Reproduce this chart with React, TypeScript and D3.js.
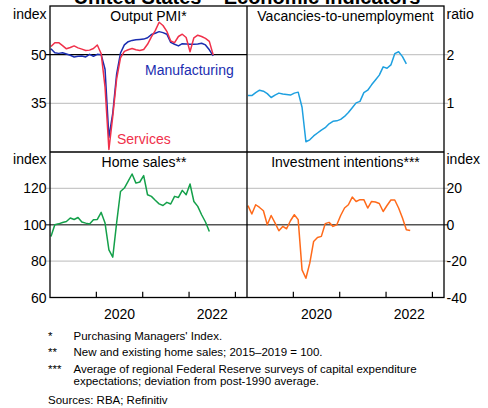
import React from "react";
import * as d3 from "d3";

// ---- Data (monthly, starting Jan 2019) ----
const startYear = 2019;
const pmiServices = [52.5, 53.7, 53.7, 52.8, 51.8, 52.2, 52.7, 52.1, 51.7, 51.3, 51.4, 51.9, 53.0, 50.3, 40, 20.8, 31, 42.5, 49, 51, 51.5, 51.9, 51.5, 51.3, 51.6, 53.2, 55.5, 57.4, 60.0, 59.0, 57.2, 54.2, 53.7, 55.6, 56.3, 55.3, 50.9, 55.2, 56.0, 55.6, 55.0, 54.1, 49.9];
const pmiManufacturing = [51.8, 50.6, 50.4, 50.6, 50.2, 49.8, 49.3, 49.5, 49.6, 49.3, 50.1, 49.5, 50.1, 50.0, 45.5, 24.5, 32, 44, 50.5, 53, 54, 54.4, 54.6, 54.7, 54.8, 55.2, 56.2, 56.6, 57.1, 56.8, 56.3, 53.8, 53.2, 52.7, 53.4, 53.3, 53.2, 53.2, 53.3, 53.5, 53.0, 51.5, 49.6];
const vacanciesRatio = [1.16, 1.16, 1.22, 1.27, 1.25, 1.2, 1.12, 1.17, 1.21, 1.19, 1.18, 1.17, 1.21, 1.23, 0.92, 0.21, 0.25, 0.33, 0.39, 0.45, 0.5, 0.58, 0.63, 0.64, 0.67, 0.73, 0.81, 0.91, 1.01, 1.04, 1.22, 1.27, 1.38, 1.48, 1.58, 1.75, 1.72, 1.79, 2.02, 2.06, 1.96, 1.81];
const homeSales = [93.6, 100, 100.5, 101.2, 101.8, 103.7, 102.9, 104, 101.5, 100.9, 100.4, 102.8, 102.9, 106.8, 100.9, 86.2, 82.2, 101, 118.3, 120.2, 124, 127.9, 122.9, 123.5, 127.0, 116.5, 115.6, 113.5, 111.5, 110.6, 112.3, 111.4, 115.6, 115.0, 118.9, 116.5, 122.4, 112.8, 110.1, 105.5, 101.5, 96.3];
const investmentIntentions = [10.5, 5.9, 11.0, 9.5, 7.7, 0, 5.1, 1.0, -3.3, -0.9, -2.2, 2.2, 5.5, 2.8, -24.8, -29.4, -21.1, -9.2, -7.0, -6.4, 0.6, 1.3, -0.9, 0, 5.1, 9.2, 11.0, 15.2, 12.8, 13.8, 13.8, 9.2, 12.8, 12.5, 11.7, 7.3, 10.6, 13.6, 13.6, 9.2, 3.7, -2.8, -3.1];

const yearTicks = [2020, 2021, 2022, 2023];
const yearLabels = [2020, 2022];
const pmiTicks = [35, 50];
const vuTicks = [1, 2];
const homeTicks = [60, 80, 100, 120];
const invTicks = [-40, -20, 0, 20];

const footnotes = [
  { mark: "*", lines: ["Purchasing Managers' Index."] },
  { mark: "**", lines: ["New and existing home sales; 2015\u20132019 = 100."] },
  { mark: "***", lines: ["Average of regional Federal Reserve surveys of capital expenditure", "expectations; deviation from post-1990 average."] },
];

const FONT = "'Liberation Sans', Arial, Helvetica, sans-serif";

// ---- Layout ----
const L = 50, M = 247, R = 444, T = 6, Y1 = 152, B = 297.5;

const xLeft = d3.scaleLinear().domain([2019, 2023.25]).range([L, M]);
const xRight = d3.scaleLinear().domain([2019, 2023.25]).range([M, R]);
const yPmi = d3.scaleLinear().domain([20, 65]).range([Y1, T]);
const yVu = d3.scaleLinear().domain([0, 3]).range([Y1, T]);
const yHome = d3.scaleLinear().domain([60, 140]).range([B, Y1]);
const yInv = d3.scaleLinear().domain([-40, 40]).range([B, Y1]);

const tOf = (k: number) => startYear + (k + 0.25) / 12;

function pathFor(values: number[], x: d3.ScaleLinear<number, number>, y: d3.ScaleLinear<number, number>) {
  const line = d3
    .line<number>()
    .x((_, i) => x(tOf(i)))
    .y((v) => y(v));
  return line(values) || "";
}

const COLORS = {
  services: "#f0304a",
  manufacturing: "#1a2db0",
  vu: "#1ea0e0",
  home: "#14a04a",
  inv: "#ff6a1a",
};

function Grid({ ticks, y, x0, x1, strong, strongColor }: { ticks: number[]; y: d3.ScaleLinear<number, number>; x0: number; x1: number; strong: number | null; strongColor: string }) {
  return (
    <g>
      {ticks.map((t) => (
        <line
          key={t}
          x1={x0}
          x2={x1}
          y1={y(t)}
          y2={y(t)}
          stroke={t === strong ? strongColor : "#c8c8c8"}
          strokeWidth={t === strong ? 1.4 : 1.2}
        />
      ))}
    </g>
  );
}

export default function App() {
  const labelStyle: React.CSSProperties = { fontFamily: FONT, fontSize: 14 };
  return (
    <svg
      width={488}
      height={408}
      viewBox="0 0 488 408"
      style={{ position: "absolute", left: 0, top: 0, background: "#fff" }}
    >
      <rect x={0} y={0} width={488} height={408} fill="#fff" />
      {/* Title (mostly cut off) */}
      <text x={247} y={4} textAnchor="middle" fontFamily={FONT} fontWeight="bold" fontSize={20}>
        United States – Economic indicators
      </text>

      {/* Gridlines */}
      <Grid ticks={pmiTicks} y={yPmi} x0={L - 4} x1={M} strong={50} strongColor="#000" />
      <Grid ticks={vuTicks} y={yVu} x0={M} x1={R + 4} strong={null} strongColor="#000" />
      <Grid ticks={[80, 100, 120]} y={yHome} x0={L - 4} x1={M} strong={100} strongColor="#555" />
      <Grid ticks={[-20, 0, 20]} y={yInv} x0={M} x1={R + 4} strong={0} strongColor="#555" />

      {/* x ticks on bottom row */}
      {yearTicks.map((yr) => (
        <g key={yr}>
          <line x1={xLeft(yr)} x2={xLeft(yr)} y1={B} y2={B - 5.7} stroke="#000" strokeWidth={1.2} />
          <line x1={xRight(yr)} x2={xRight(yr)} y1={B} y2={B - 5.7} stroke="#000" strokeWidth={1.2} />
        </g>
      ))}

      {/* Data lines */}
      <path d={pathFor(pmiManufacturing, xLeft, yPmi)} fill="none" stroke={COLORS.manufacturing} strokeWidth={1.5} strokeLinejoin="round" />
      <path d={pathFor(pmiServices, xLeft, yPmi)} fill="none" stroke={COLORS.services} strokeWidth={1.5} strokeLinejoin="round" />
      <path d={pathFor(vacanciesRatio, xRight, yVu)} fill="none" stroke={COLORS.vu} strokeWidth={1.5} strokeLinejoin="round" />
      <path d={pathFor(homeSales, xLeft, yHome)} fill="none" stroke={COLORS.home} strokeWidth={1.5} strokeLinejoin="round" />
      <path d={pathFor(investmentIntentions, xRight, yInv)} fill="none" stroke={COLORS.inv} strokeWidth={1.5} strokeLinejoin="round" />

      {/* Frame */}
      <rect x={L} y={T} width={R - L} height={B - T} fill="none" stroke="#000" strokeWidth={1.3} />
      <line x1={M} x2={M} y1={T} y2={B} stroke="#000" strokeWidth={1.3} />
      <line x1={L} x2={R} y1={Y1} y2={Y1} stroke="#000" strokeWidth={1.3} />

      {/* Panel titles */}
      <text x={148.5} y={21} textAnchor="middle" style={labelStyle}>Output PMI*</text>
      <text x={345.5} y={21} textAnchor="middle" style={labelStyle}>Vacancies-to-unemployment</text>
      <text x={144} y={166.5} textAnchor="middle" style={labelStyle}>Home sales**</text>
      <text x={345.5} y={166.5} textAnchor="middle" style={labelStyle}>Investment intentions***</text>

      {/* Series labels */}
      <text x={145} y={75} style={{ ...labelStyle, fill: COLORS.manufacturing }}>Manufacturing</text>
      <text x={117} y={144} style={{ ...labelStyle, fill: COLORS.services }}>Services</text>

      {/* Units */}
      <text x={46.5} y={19} textAnchor="end" style={labelStyle}>index</text>
      <text x={446.5} y={19} style={labelStyle}>ratio</text>
      <text x={46.5} y={164} textAnchor="end" style={labelStyle}>index</text>
      <text x={446.5} y={164} style={labelStyle}>index</text>

      {/* Y tick labels */}
      {pmiTicks.map((t) => (
        <text key={"p" + t} x={46.5} y={yPmi(t)} dy="0.36em" textAnchor="end" style={labelStyle}>{t}</text>
      ))}
      {vuTicks.map((t) => (
        <text key={"v" + t} x={446.5} y={yVu(t)} dy="0.36em" style={labelStyle}>{t}</text>
      ))}
      {homeTicks.map((t) => (
        <text key={"h" + t} x={46.5} y={yHome(t)} dy="0.36em" textAnchor="end" style={labelStyle}>{t}</text>
      ))}
      {invTicks.map((t) => (
        <text key={"i" + t} x={446.5} y={yInv(t)} dy="0.36em" style={labelStyle}>{t}</text>
      ))}

      {/* X labels */}
      {yearLabels.map((yr) => (
        <g key={"xl" + yr}>
          <text x={xLeft(yr + 0.5)} y={318.5} textAnchor="middle" style={labelStyle}>{yr}</text>
          <text x={xRight(yr + 0.5)} y={318.5} textAnchor="middle" style={labelStyle}>{yr}</text>
        </g>
      ))}

      {/* Footnotes */}
      {(() => {
        const ys = [[340], [356], [372.5, 384.5]];
        return footnotes.map((f, i) => (
          <g key={"f" + i} style={{ fontFamily: FONT, fontSize: 11.5 }}>
            <text x={48} y={ys[i][0]}>{f.mark}</text>
            {f.lines.map((ln, j) => (
              <text key={j} x={73.5} y={ys[i][j]}>{ln}</text>
            ))}
          </g>
        ));
      })()}
      <text x={48} y={404} style={{ fontFamily: FONT, fontSize: 11.5 }}>Sources: RBA; Refinitiv</text>
    </svg>
  );
}
